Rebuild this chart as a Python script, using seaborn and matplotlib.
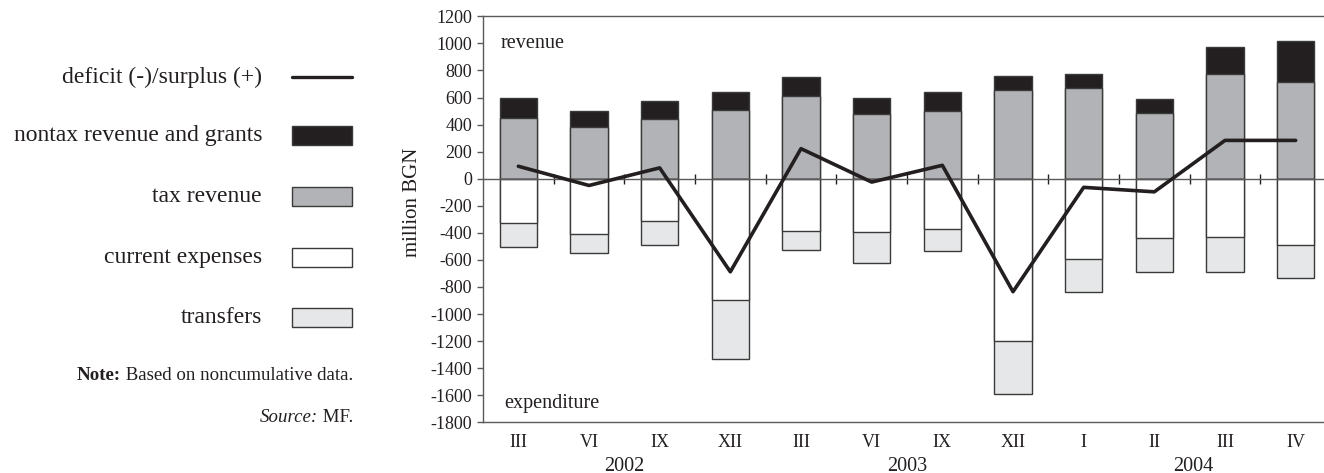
import numpy as np
import pandas as pd
import matplotlib
matplotlib.use("Agg")
import matplotlib.pyplot as plt
import seaborn as sns
from matplotlib.patches import Rectangle
from matplotlib.lines import Line2D
from matplotlib.transforms import blended_transform_factory

# ---- data (million BGN, noncumulative) ----
months = ["III", "VI", "IX", "XII", "III", "VI", "IX", "XII", "I", "II", "III", "IV"]
years = ["2002", "2003", "2004"]
year_pos = [1.5, 5.5, 9.55]
tax_revenue = [447, 385, 442, 508, 609, 478, 500, 657, 672, 488, 775, 716]
nontax_revenue = [153, 115, 130, 135, 142, 116, 138, 99, 103, 103, 196, 305]
current_expenses = [-326, -405, -314, -896, -383, -395, -373, -1197, -594, -439, -429, -491]
transfers = [-180, -147, -177, -436, -145, -226, -164, -395, -245, -248, -258, -245]
balance = [92, -50, 80, -688, 222, -25, 99, -835, -64, -97, 283, 283]

df = pd.DataFrame({
    "idx": np.arange(len(months)),
    "tax": tax_revenue,
    "nontax": nontax_revenue,
    "current": current_expenses,
    "transfers": transfers,
    "balance": balance,
})
df["revenue_total"] = df["tax"] + df["nontax"]
df["expense_total"] = df["current"] + df["transfers"]

C_NONTAX = "#231f20"
C_TAX = "#b2b3b6"
C_CURRENT = "#ffffff"
C_TRANSF = "#e6e7e8"
C_EDGE = "#3a3a3a"
C_AXIS = "#5a5a5a"
C_TEXT = "#231f20"

sns.set_theme(style="white")
plt.rcParams["font.family"] = ["Liberation Serif", "DejaVu Serif"]
plt.rcParams["axes.unicode_minus"] = False
plt.rcParams["text.color"] = C_TEXT

fig = plt.figure(figsize=(13.24, 4.73), dpi=100)
ax = fig.add_axes([483 / 1324, 1 - 422.3 / 473, 848 / 1324, 406 / 473])

bar_kw = dict(width=0.53, edgecolor=C_EDGE, linewidth=1.0, saturation=1, ax=ax)
# stacked revenue: total first, tax on top of it from zero
sns.barplot(data=df, x="idx", y="revenue_total", color=C_NONTAX, **bar_kw)
sns.barplot(data=df, x="idx", y="tax", color=C_TAX, **bar_kw)
# stacked expenditure below zero
sns.barplot(data=df, x="idx", y="expense_total", color=C_TRANSF, **bar_kw)
sns.barplot(data=df, x="idx", y="current", color=C_CURRENT, **bar_kw)

ax.axhline(0, color=C_AXIS, linewidth=1.0, zorder=3)
sns.lineplot(data=df, x="idx", y="balance", color=C_NONTAX, linewidth=2.6,
             ax=ax, zorder=5)

ax.set_xlim(-0.5, len(months) - 0.5)
ax.set_ylim(-1800, 1200)
ax.set_yticks(np.arange(-1800, 1201, 200))
ax.set_yticklabels([str(v) for v in range(-1800, 1201, 200)], fontsize=13, color=C_TEXT)
ax.tick_params(axis="y", which="major", left=True, length=4, width=1, color=C_AXIS, pad=4)
ax.set_xticks(df["idx"])
ax.set_xticklabels(months, fontsize=13, color=C_TEXT)
ax.tick_params(axis="x", which="major", bottom=False, pad=2.5)
ax.set_xlabel("")
ax.set_ylabel("million BGN", fontsize=15, color=C_TEXT)
ax.yaxis.set_label_coords(-0.0723, 0.5426)

for side in ["left", "top", "bottom"]:
    ax.spines[side].set_visible(True)
    ax.spines[side].set_color(C_AXIS)
    ax.spines[side].set_linewidth(1.0)
ax.spines["right"].set_visible(False)

# category boundary ticks on the zero line
zero_ax = ax.secondary_xaxis(1800 / 3000)
zero_ax.spines["bottom"].set_visible(False)
zero_ax.spines["top"].set_visible(False)
zero_ax.set_xticks(np.arange(0.5, len(months) - 0.5, 1.0))
zero_ax.tick_params(axis="x", direction="inout", length=7, width=1, color=C_TEXT,
                    labelbottom=False, labeltop=False, bottom=True, top=False)
zero_ax.set_xticklabels([])

trans = blended_transform_factory(ax.transData, ax.transAxes)
for yr, pos in zip(years, year_pos):
    ax.text(pos, -0.108, yr, transform=trans, ha="center", va="center", fontsize=14.5)

ax.text(-0.25, 1000, "revenue", ha="left", va="center", fontsize=14.5)
ax.text(-0.2, -1660, "expenditure", ha="left", va="center", fontsize=14.5)

# ---- legend panel ----
W, H = 1324, 473
legend_rows = [
    ("deficit (-)/surplus (+)", 77, None),
    ("nontax revenue and grants", 135.7, C_NONTAX),
    ("tax revenue", 196, C_TAX),
    ("current expenses", 257, C_CURRENT),
    ("transfers", 317, C_TRANSF),
]
for label, ypx, color in legend_rows:
    yf = 1 - ypx / H
    fig.text(262 / W, yf, label, ha="right", va="center", fontsize=17)
    if color is None:
        fig.add_artist(Line2D([292 / W, 352 / W], [yf, yf], color=C_NONTAX,
                              linewidth=2.4, transform=fig.transFigure))
    else:
        fig.add_artist(Rectangle((292 / W, yf - 9.5 / H), 60 / W, 19 / H,
                                 facecolor=color, edgecolor=C_EDGE, linewidth=1.0,
                                 transform=fig.transFigure))

fig.canvas.draw()
renderer = fig.canvas.get_renderer()
note_body = fig.text(353 / W, 1 - 375 / H, " Based on noncumulative data.",
                     ha="right", va="center", fontsize=13.6)
bb = note_body.get_window_extent(renderer)
fig.text(bb.x0 / W, 1 - 375 / H, "Note:", ha="right", va="center",
         fontsize=13.6, fontweight="bold")
src_body = fig.text(353 / W, 1 - 417.7 / H, " MF.", ha="right", va="center", fontsize=13.6)
bb = src_body.get_window_extent(renderer)
fig.text(bb.x0 / W, 1 - 417.7 / H, "Source:", ha="right", va="center",
         fontsize=13.6, fontstyle="italic")

fig.savefig("out.png", dpi=100)
